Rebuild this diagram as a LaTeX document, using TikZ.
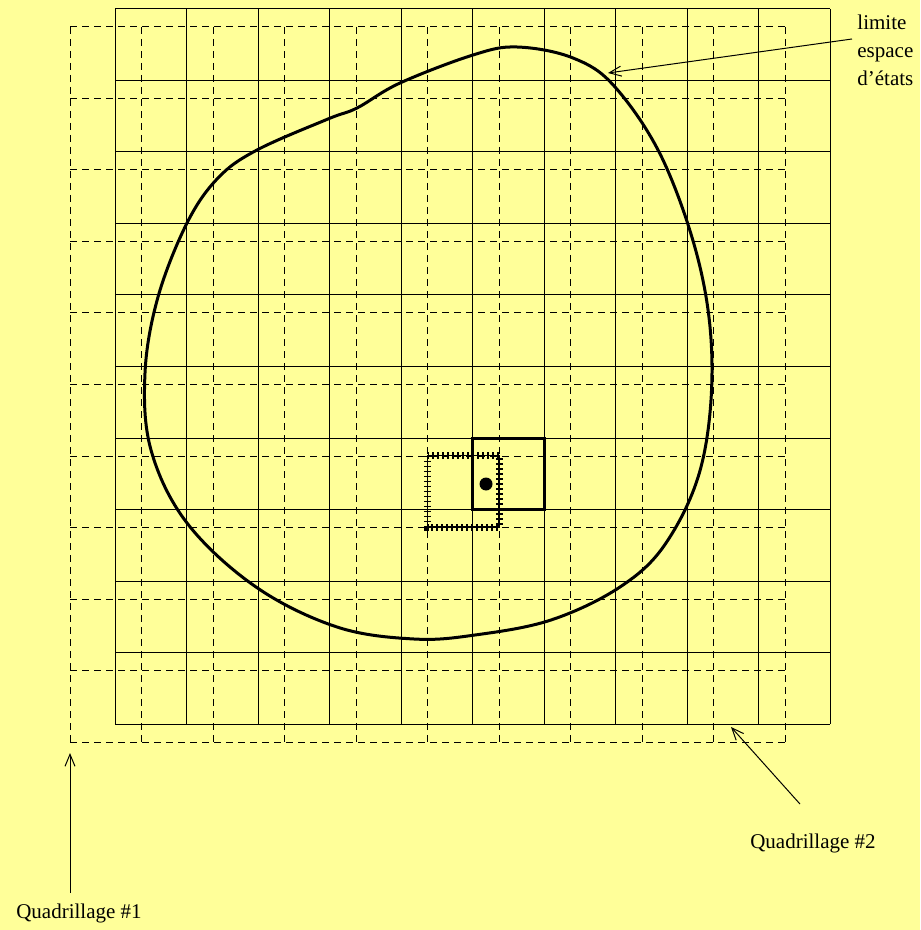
\documentclass[tikz,border=0pt]{standalone}
\usepackage{fontspec}
\setmainfont{Liberation Serif}
\usepackage{tikz}
\usetikzlibrary{arrows.meta, positioning}
\definecolor{fondjaune}{RGB}{255,255,153}

\begin{document}
\begin{tikzpicture}[
    x=0.5pt, y=-0.5pt,
    grille1/.style = {line width=0.5pt},
    grille2/.style = {line width=0.5pt, dash pattern=on 3.5pt off 2.5pt},
    limite/.style = {line width=1.5pt},
    cellule/.style = {line width=1.5pt},
    hachure/.style = {line width=3.5pt, dash pattern=on 0.9pt off 1.6pt},
    etiquette/.style = {inner sep=1pt, font=\fontsize{10.5}{14}\selectfont},
    fleche/.style = {line width=0.5pt, ->},
    >={Straight Barb[length=6pt,width=5pt]}]

    \useasboundingbox (0,0) rectangle (920,930);
    \fill[fondjaune] (0,0) rectangle (920,930);

    % quadrillage #1 (trait plein)
    \foreach \i in {0,...,10} {
        \draw[grille1] (115+71.5*\i,9) -- (115+71.5*\i,724);
        \draw[grille1] (115,9+71.5*\i) -- (830,9+71.5*\i);
    }
    % quadrillage #2 (tirets)
    \foreach \i in {0,...,10} {
        \draw[grille2] (70+71.5*\i,27) -- (70+71.5*\i,742);
        \draw[grille2] (70,27+71.5*\i) -- (785,27+71.5*\i);
    }

    % limite de l'espace d'etats
    \draw[limite] plot[smooth cycle, tension=0.6] coordinates {
        (517,47) (573,58) (615,87) (663,160) (700,267) (712,367) (701,467)
        (666,543) (620,587) (551,620) (475,635) (414,639) (337,627) (256,587)
        (187,523) (151,450) (145,373) (158,297) (187,223) (218,178) (257,150)
        (328,119) (357,108) (400,83) (473,55)};

    % cellules
    \draw[line width=0.6pt] (427.5,455.5) rectangle (499,527);
    \draw[hachure] (427.5,455.5) rectangle (499,527);
    \draw[cellule] (472.5,438) rectangle (544,509.5);
    \fill (486,484) circle[radius=6.5];

    % etiquettes
    \node[etiquette, align=left, anchor=west] (lim) at (855,50) {limite\\espace\\d’états};
    \node[etiquette] (q1) at (79,913) {Quadrillage \#1};
    \node[etiquette] (q2) at (813,843) {Quadrillage \#2};

    \coordinate (pLim) at (608,73);
    \coordinate (pQ1) at (70,753);
    \coordinate (pQ2) at (731,727);

    \draw[fleche] ([shift={(-3,-11)}]lim.west) -- (pLim);
    \draw[fleche, shorten <=4pt] (q1.north -| pQ1) -- (pQ1);
    \draw[fleche] ([shift={(-13,-27)}]q2.north) -- (pQ2);
\end{tikzpicture}
\end{document}
